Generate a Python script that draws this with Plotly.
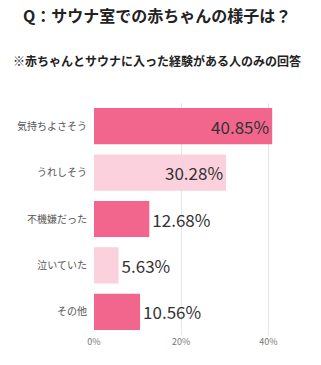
import plotly.graph_objects as go

categories = ["気持ちよさそう", "うれしそう", "不機嫌だった", "泣いていた", "その他"]
values = [40.85, 30.28, 12.68, 5.63, 10.56]
colors = ["#F2668E", "#FAD1DD", "#F2668E", "#FAD1DD", "#F2668E"]
positions = ["inside", "inside", "outside", "outside", "outside"]
tick_vals = [0, 20, 40]
tick_text = ["0%", "20%", "40%"]

font = "Noto Sans CJK JP"

fig = go.Figure(go.Bar(
    y=categories,
    x=values,
    orientation="h",
    marker=dict(color=colors, line=dict(width=0)),
    text=[f"{v:.2f}%" for v in values],
    textposition=positions,
    insidetextanchor="end",
    textfont=dict(family=font, size=17, color="#333333"),
    outsidetextfont=dict(family=font, size=17, color="#333333"),
    insidetextfont=dict(family=font, size=17, color="#333333"),
    cliponaxis=False,
    hoverinfo="skip",
))

fig.update_layout(
    width=321, height=365,
    margin=dict(l=94, r=22, t=103, b=30),
    paper_bgcolor="white",
    plot_bgcolor="white",
    bargap=0.22,
    showlegend=False,
    font=dict(family=font),
    xaxis=dict(
        range=[0, 47],
        tickvals=tick_vals,
        ticktext=tick_text,
        showgrid=True,
        gridcolor="#E6E6E6",
        gridwidth=1,
        zeroline=False,
        showline=False,
        tickfont=dict(family=font, size=9, color="#777777"),
        ticks="",
        fixedrange=True,
    ),
    yaxis=dict(
        autorange="reversed",
        showgrid=False,
        zeroline=False,
        showline=False,
        ticks="",
        ticklabelstandoff=6,
        tickfont=dict(family=font, size=10, color="#555555"),
        fixedrange=True,
    ),
    annotations=[
        dict(text="<b>Q：サウナ室での赤ちゃんの様子は？</b>", x=157, y=15,
             xref="paper", yref="paper", showarrow=False,
             font=dict(family=font, size=16, color="#222222")),
    ],
)
# use pixel-based positioning via paper coords
fig.layout.annotations = []
fig.add_annotation(text="<b>Q：サウナ室での赤ちゃんの様子は？</b>",
                   xref="paper", yref="paper",
                   x=(157 - 94) / (321 - 94 - 22), y=1 + (103 - 15) / (365 - 103 - 30),
                   showarrow=False, xanchor="center", yanchor="middle",
                   font=dict(family=font, size=16, color="#222222"))
fig.add_annotation(text="<b>※赤ちゃんとサウナに入った経験がある人のみの回答</b>",
                   xref="paper", yref="paper",
                   x=(157 - 94) / (321 - 94 - 22), y=1 + (103 - 60) / (365 - 103 - 30),
                   showarrow=False, xanchor="center", yanchor="middle",
                   font=dict(family=font, size=12, color="#222222"))

fig.write_html("out.html")
